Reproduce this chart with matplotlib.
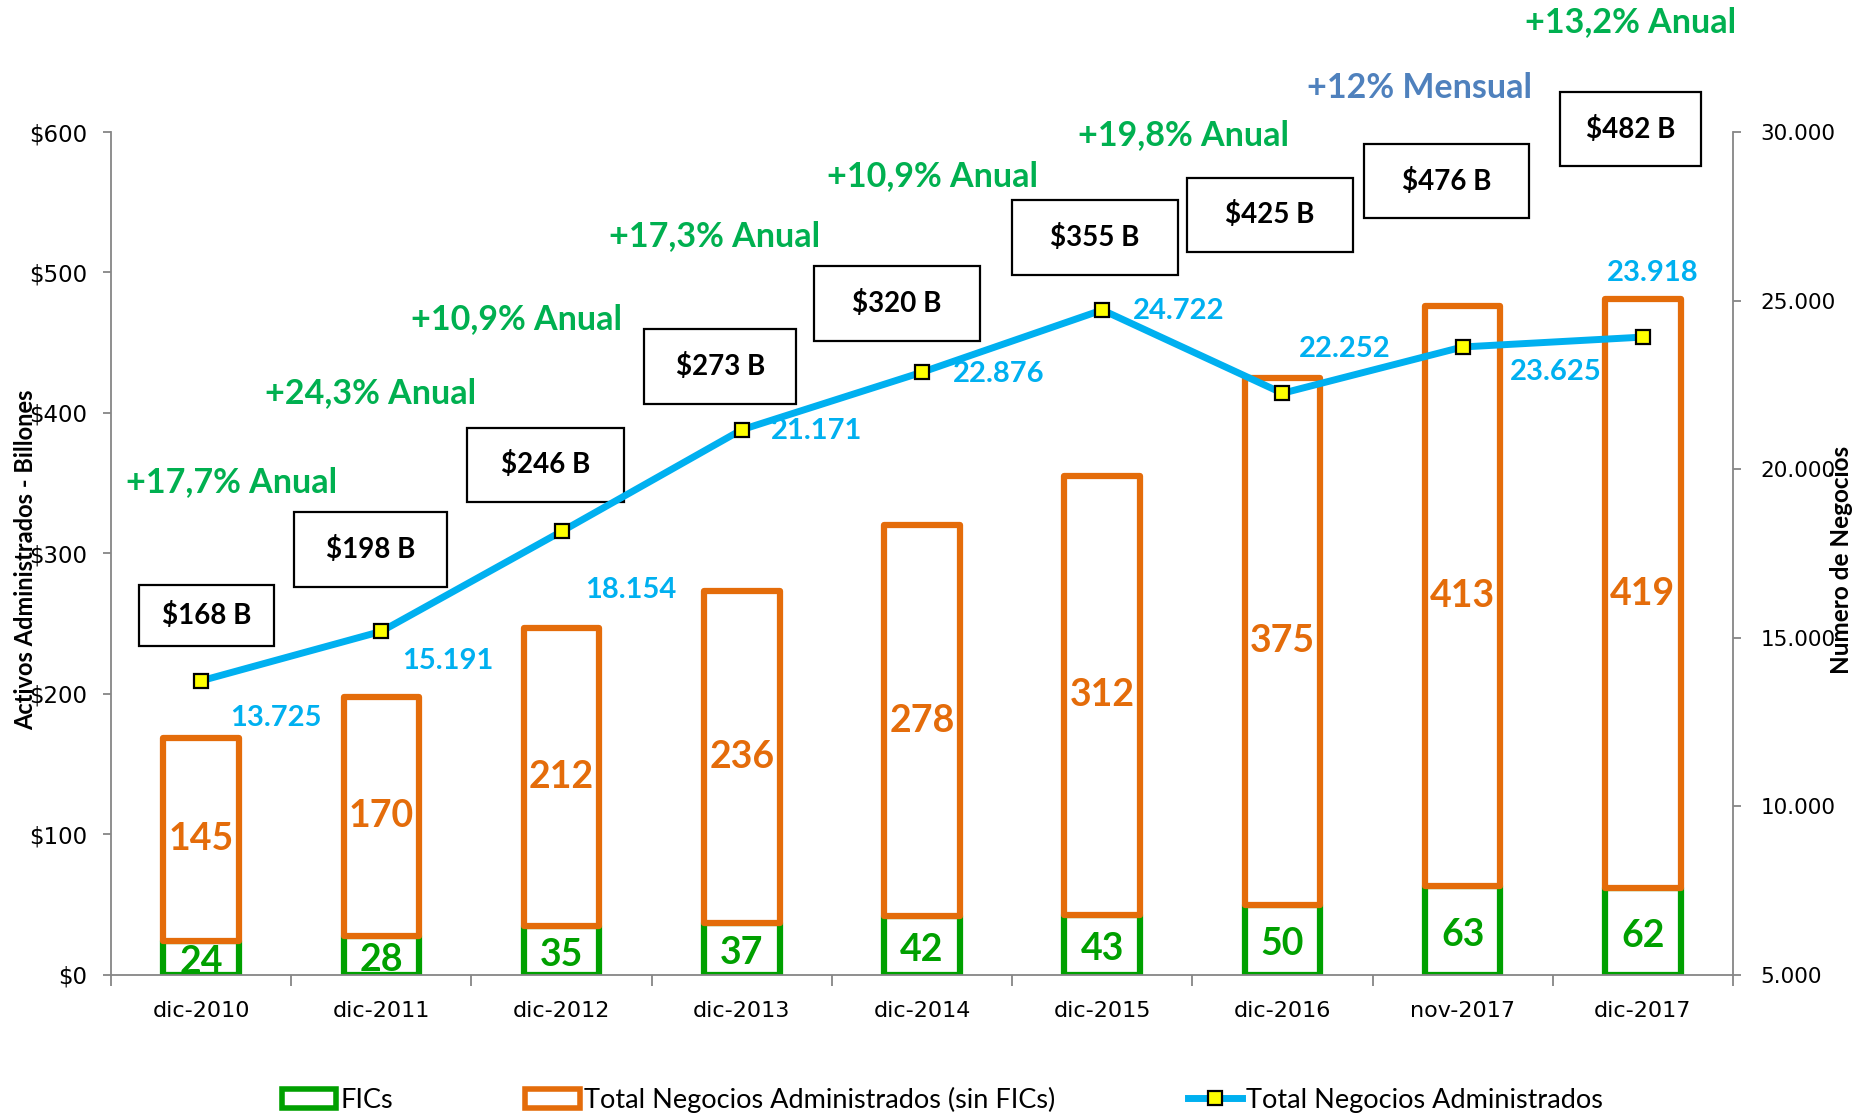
import matplotlib

matplotlib.use("Agg")
import matplotlib.pyplot as plt
from matplotlib.lines import Line2D
from matplotlib.patches import Patch, Rectangle
import numpy as np

categories = ["dic-2010", "dic-2011", "dic-2012", "dic-2013", "dic-2014",
              "dic-2015", "dic-2016", "nov-2017", "dic-2017"]
fics = [24, 28, 35, 37, 42, 43, 50, 63, 62]
sin_fics = [145, 170, 212, 236, 278, 312, 375, 413, 419]
negocios = [13725, 15191, 18154, 21171, 22876, 24722, 22252, 23625, 23918]
totales = ["$168 B", "$198 B", "$246 B", "$273 B", "$320 B",
           "$355 B", "$425 B", "$476 B", "$482 B"]
crecimiento = ["+17,7% Anual", "+24,3% Anual", "+10,9% Anual", "+17,3% Anual",
               "+10,9% Anual", "+19,8% Anual", "+12% Mensual", "+13,2% Anual"]
left_ticks = [0, 100, 200, 300, 400, 500, 600]
left_labels = ["$0", "$100", "$200", "$300", "$400", "$500", "$600"]
right_ticks = [5000, 10000, 15000, 20000, 25000, 30000]
right_labels = ["5.000", "10.000", "15.000", "20.000", "25.000", "30.000"]

GREEN = "#00A000"
ORANGE = "#E46C0A"
BLUE = "#00B0F0"
ANNUAL = "#00B050"
MONTHLY = "#4F81BD"
SPINE = "#868686"
FONT = "Lato"

# layout of the floating boxes / notes (category units, left-axis units)
box_pos = [(0.03, 256), (0.94, 303), (1.91, 363), (2.88, 433), (3.86, 478),
           (4.96, 525), (5.93, 541), (6.91, 565), (7.93, 602)]
box_w = [0.75, 0.85, 0.87, 0.84, 0.92, 0.92, 0.92, 0.92, 0.78]
box_h = [43, 53, 53, 53, 53, 53, 53, 53, 53]
growth_pos = [(0.17, 351), (0.94, 414), (1.75, 467), (2.85, 526),
              (4.06, 569), (5.45, 598), (6.76, 631), (7.93, 678)]
line_offsets = [(54, -27), (48, -21), (50, -42), (54, -1), (55, -1),
                (55, -1), (45, 32), (67, -18), (7, 46)]

x = np.arange(len(categories))
fig = plt.figure(figsize=(18.66, 11.13), dpi=100)
ax = fig.add_axes([0.0595, 0.124, 0.8692, 0.7574])

bar_kw = dict(width=0.42, facecolor="white", linewidth=4.5, joinstyle="round")
ax.bar(x, fics, edgecolor=GREEN, **bar_kw)
ax.bar(x, sin_fics, bottom=fics, edgecolor=ORANGE, **bar_kw)

for i in range(len(x)):
    ax.text(x[i], fics[i] / 2 - 3, str(fics[i]), ha="center", va="center",
            color=GREEN, fontsize=27, fontweight="bold", family=FONT)
    ax.text(x[i], fics[i] + sin_fics[i] / 2, str(sin_fics[i]), ha="center",
            va="center", color=ORANGE, fontsize=27, fontweight="bold", family=FONT)

for (bx, by), w, h, label in zip(box_pos, box_w, box_h, totales):
    ax.add_patch(Rectangle((bx - w / 2, by - h / 2), w, h, facecolor="white",
                           edgecolor="black", linewidth=1.6, clip_on=False, zorder=4))
    ax.text(bx, by, label, ha="center", va="center", fontsize=20,
            fontweight="bold", family=FONT, zorder=5)

for (gx, gy), label in zip(growth_pos, crecimiento):
    color = MONTHLY if "Mensual" in label else ANNUAL
    ax.text(gx, gy, label, ha="center", va="center", fontsize=24.5,
            fontweight="bold", color=color, family=FONT)

ax.set_xlim(-0.5, len(x) - 0.5)
ax.set_ylim(0, 600)
ax.set_yticks(left_ticks)
ax.set_yticklabels(left_labels)
ax.set_xticks(x)
ax.set_xticklabels(categories)
ax.set_xticks(np.arange(len(x) + 1) - 0.5, minor=True)
ax.tick_params(axis="x", which="major", length=0, pad=19, labelsize=16)
ax.tick_params(axis="x", which="minor", length=8, color=SPINE, width=1.3)
ax.tick_params(axis="y", length=6, color=SPINE, width=1.3, pad=11, labelsize=16.5)
for side in ("top", "right"):
    ax.spines[side].set_visible(False)
for side in ("left", "bottom"):
    ax.spines[side].set_color(SPINE)
    ax.spines[side].set_linewidth(1.3)

ax2 = ax.twinx()
ax2.plot(x, negocios, color=BLUE, linewidth=5, marker="s", markersize=10,
         markerfacecolor="#FFFF00", markeredgecolor="black", markeredgewidth=1.6)
for i, (dx, dy) in enumerate(line_offsets):
    label = f"{negocios[i]:,}".replace(",", ".")
    ax2.annotate(label, (x[i], negocios[i]), xytext=(dx, dy),
                 textcoords="offset points", ha="center", va="center",
                 color=BLUE, fontsize=21, fontweight="bold", family=FONT)
ax2.set_ylim(5000, 30000)
ax2.set_yticks(right_ticks)
ax2.set_yticklabels(right_labels)
ax2.tick_params(axis="y", length=6, color=SPINE, width=1.3, pad=14, labelsize=15.5)
for side in ("top", "left", "bottom"):
    ax2.spines[side].set_visible(False)
ax2.spines["right"].set_color(SPINE)
ax2.spines["right"].set_linewidth(1.3)

fig.text(0.0135, 0.497, "Activos Administrados - Billones", rotation=90,
         ha="center", va="center", fontsize=17, fontweight="bold", family=FONT)
fig.text(0.987, 0.497, "Numero de Negocios", rotation=90,
         ha="center", va="center", fontsize=17.5, fontweight="bold", family=FONT)

handles = [
    Patch(facecolor="white", edgecolor=GREEN, linewidth=4),
    Patch(facecolor="white", edgecolor=ORANGE, linewidth=4),
    Line2D([], [], color=BLUE, linewidth=5, marker="s", markersize=10,
           markerfacecolor="#FFFF00", markeredgecolor="black", markeredgewidth=1.6),
]
labels = ["FICs", "Total Negocios Administrados (sin FICs)", "Total Negocios Administrados"]
fig.legend(handles, labels, loc="center", bbox_to_anchor=(0.505, 0.012), ncol=3,
           frameon=False, prop={"family": FONT, "size": 19.5}, handlelength=2.0,
           handletextpad=0.15, columnspacing=4.9)

fig.savefig("out.png", dpi=100, facecolor="white")
